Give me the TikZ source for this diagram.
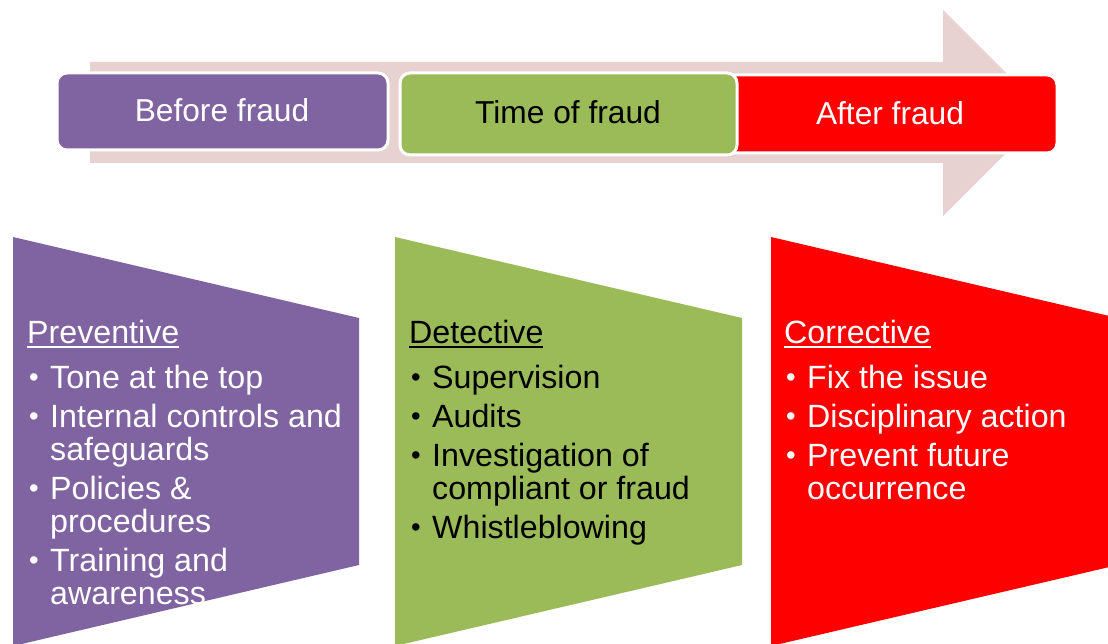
\documentclass[tikz,border=0pt]{standalone}
\usepackage{fontspec}
\setmainfont{Liberation Sans}
\definecolor{fpurple}{HTML}{8064A2}
\definecolor{fgreen}{HTML}{9BBB59}
\definecolor{fred}{HTML}{FF0000}
\definecolor{fpink}{HTML}{E8D1D1}
% underlined heading with a heavier rule
\newcommand{\headline}[1]{\setbox0\hbox{#1}\rlap{\rule[-5pt]{\wd0}{1.8pt}}\box0}
\newcommand{\bul}{\makebox[23pt][l]{\hspace{2pt}\raisebox{1.5pt}{\scalebox{0.85}{•}}}}
\newcommand{\ind}{\hspace*{23pt}}
\newcommand{\itemgap}{\vskip 6pt}
\tikzset{
  stagebox/.style={draw=white, line width=3pt, rounded corners=10pt},
  stagetext/.style={font=\fontsize{31.7}{34}\selectfont, inner sep=0pt},
  listtext/.style={anchor=base west, inner sep=0pt, font=\fontsize{32.2}{33}\selectfont}
}
\begin{document}
\begin{tikzpicture}[x=1pt,y=-1pt]
\useasboundingbox (0,0) rectangle (1108,644);
\clip (0,0) rectangle (1108,644);
\fill[white] (0,0) rectangle (1108,644);

% timeline arrow behind the stage boxes
\fill[fpink] (90,62) -- (943,62) -- (943,10) -- (1046,113) -- (943,216)
  -- (943,163) -- (90,163) -- cycle;

% stage boxes
\draw[stagebox, fill=fred] (718,75) rectangle (1057,153);
\draw[stagebox, fill=fgreen] (400,73) rectangle (737,155);
\draw[stagebox, fill=fpurple] (57,73) rectangle (388,150);
\node[stagetext, text=white] (before) at (222,110) {Before fraud};
\node[stagetext, text=black] (during) at (568,112) {Time of fraud};
\node[stagetext, text=white] (after) at (890,113) {After fraud};

% control panels
\fill[fpurple] (13,237) -- (359,318) -- (359,565) -- (13,646) -- cycle;
\fill[fgreen] (395,237) -- (742,318) -- (742,565) -- (395,646) -- cycle;
\fill[fred] (771,237) -- (1118,318) -- (1118,565) -- (771,646) -- cycle;

\node[listtext, text=white] (preventive) at (27,343) {\vtop{
  \hbox{\headline{Preventive}}\vskip 12pt
  \hbox{\bul Tone at the top}\itemgap
  \hbox{\bul Internal controls and}
  \hbox{\ind safeguards}\itemgap
  \hbox{\bul Policies \&}
  \hbox{\ind procedures}\itemgap
  \hbox{\bul Training and}
  \hbox{\ind awareness}}};

\node[listtext, text=black] (detective) at (409,343) {\vtop{
  \hbox{\headline{Detective}}\vskip 12pt
  \hbox{\bul Supervision}\itemgap
  \hbox{\bul Audits}\itemgap
  \hbox{\bul Investigation of}
  \hbox{\ind compliant or fraud}\itemgap
  \hbox{\bul Whistleblowing}}};

\node[listtext, text=white] (corrective) at (784,343) {\vtop{
  \hbox{\headline{Corrective}}\vskip 12pt
  \hbox{\bul Fix the issue}\itemgap
  \hbox{\bul Disciplinary action}\itemgap
  \hbox{\bul Prevent future}
  \hbox{\ind occurrence}}};
\end{tikzpicture}
\end{document}
